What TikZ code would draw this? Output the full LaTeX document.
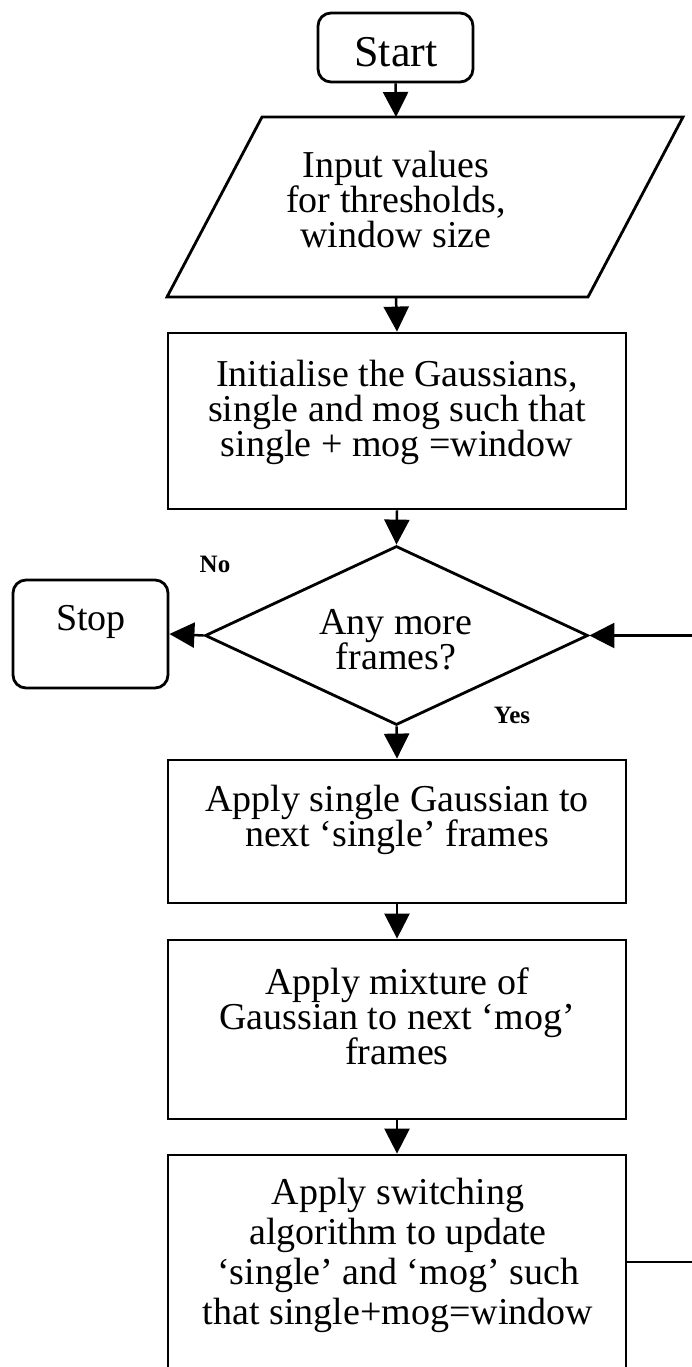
\documentclass[tikz,border=0pt]{standalone}
\usepackage{fontspec}
\setmainfont{Liberation Serif}
\usetikzlibrary{arrows.meta,shapes.geometric}
\begin{document}
\begin{tikzpicture}[x=1pt,y=-1pt,
  shapeline/.style={draw, line width=2.8pt, inner sep=0pt},
  box/.style={shapeline, minimum width=458pt},
  rbox/.style={shapeline, rounded corners=13pt},
  txt/.style={align=center, inner sep=0pt, font=\fontsize{38}{35}\selectfont},
  txtwide/.style={align=center, inner sep=0pt, font=\fontsize{38}{40}\selectfont},
  lbl/.style={inner sep=0pt, font=\fontsize{25}{28}\selectfont\bfseries},
  arr/.style={line width=2.5pt, -{Triangle[length=25pt,width=25pt]}}]
\useasboundingbox (0,0) rectangle (692,1367);
\clip (0,0) rectangle (692,1367);
\fill[white] (0,0) rectangle (692,1367);

% Start
\node[rbox, minimum width=155pt, minimum height=69pt] (start) at (395.5,47.5) {};
\node[txt, font=\fontsize{44}{40}\selectfont] (startT) at (396,52) {Start};

% Input parallelogram
\coordinate (pTL) at (262,117);
\coordinate (pTR) at (683,117);
\coordinate (pBR) at (588,297);
\coordinate (pBL) at (167,297);
\draw[line width=2.8pt, line join=miter] (pTL) -- (pTR) -- (pBR) -- (pBL) -- cycle;
\coordinate (inTop) at (396,117);
\coordinate (inBot) at (396,297);
\node[txt] (inputT) at (396,200) {Input values\\for thresholds,\\window size};

% Initialise box
\node[box, minimum height=176pt] (init) at (397,421) {};
\node[txt] (initT) at (397,412) {Initialise the Gaussians,\\single and mog such that\\single + mog =window};

% Decision
\node[shapeline, diamond, minimum width=383pt, minimum height=179pt] (dec) at (396.5,635.5) {};
\node[txt] (decT) at (396,640) {Any more\\frames?};

% Stop
\node[rbox, minimum width=155pt, minimum height=108pt] (stop) at (90.5,634) {};
\node[txt] (stopT) at (91,622) {Stop};

\node[lbl] (no) at (215,564) {No};
\node[lbl] (yes) at (512,715) {Yes};

% Process boxes
\node[box, minimum height=143pt] (single) at (397,831.5) {};
\node[txt] (singleT) at (397,820) {Apply single Gaussian to\\next ‘single’ frames};

\node[box, minimum height=179pt] (mix) at (397,1029.5) {};
\node[txt] (mixT) at (397,1016) {Apply mixture of\\Gaussian to next ‘mog’\\frames};

\node[box, minimum height=214pt] (switch) at (397,1262) {};
\node[txtwide] (switchT) at (398,1255) {Apply switching\\algorithm to update\\‘single’ and ‘mog’ such\\that single+mog=window};

% Connectors
\coordinate (loopR) at (730,0);
\draw[arr] (start.south) -- (inTop);
\draw[arr] (inBot) -- (init.north);
\draw[arr] (init.south) -- (dec.north);
\draw[arr] (dec.west) -- (stop.east);
\draw[arr] (dec.south) -- (single.north);
\draw[arr] (single.south) -- (mix.north);
\draw[arr] (mix.south) -- (switch.north);
\draw[line width=2.5pt] (switch.east) -- (switch.east -| loopR) -- (dec.east -| loopR);
\draw[arr] (dec.east -| loopR) -- (dec.east);
\end{tikzpicture}
\end{document}
